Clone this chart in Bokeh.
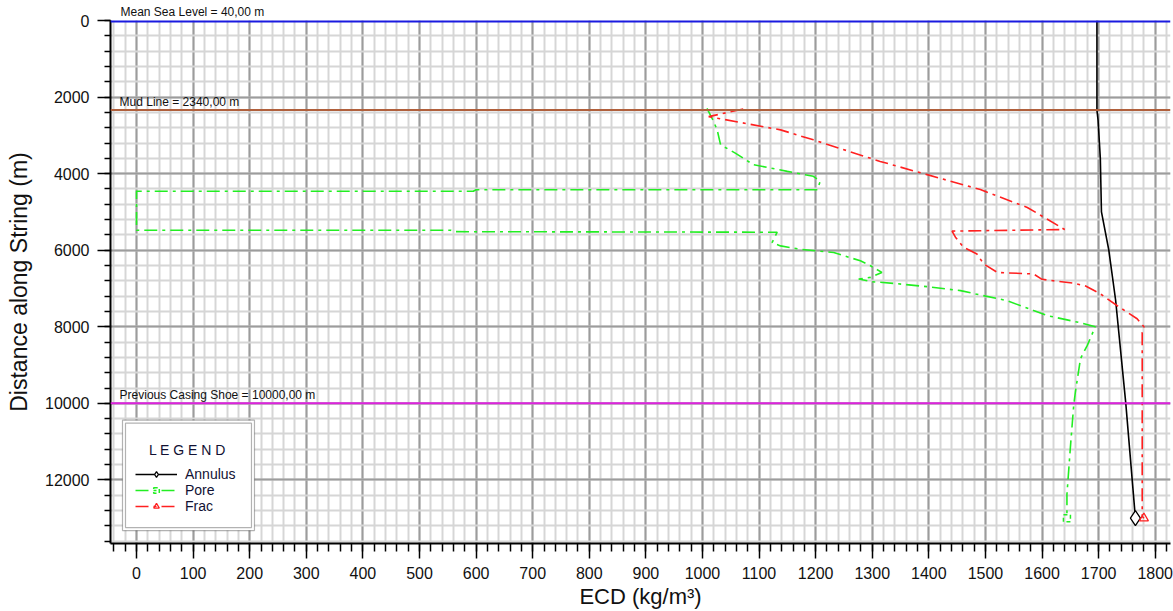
from bokeh.plotting import figure
from bokeh.models import (Range1d, SingleIntervalTicker, Legend, LegendItem,
                          Label, Span, BoxAnnotation)
from bokeh.embed import file_html
from bokeh.resources import INLINE

# ---------------- data ----------------
annulus_ecd = [1697, 1697, 1699, 1703, 1705, 1718, 1730, 1748, 1765]
annulus_depth = [0, 2340, 2600, 3600, 5000, 6000, 7300, 10000, 13000]

pore_ecd = [1008, 1017, 1026, 1032, 1058, 1090, 1150, 1196, 1208, 1203,
            600, 595, 0, 0, 555, 560, 1132, 1123, 1138, 1173, 1232, 1279,
            1297, 1317, 1297, 1276, 1300, 1338, 1397, 1456, 1491, 1538,
            1585, 1609, 1668, 1694, 1680, 1668, 1659, 1656, 1650, 1644, 1644]
pore_depth = [2294, 2554, 2857, 3247, 3463, 3766, 3940, 4069, 4199, 4420,
              4420, 4460, 4460, 5480, 5480, 5515, 5530, 5800, 5887, 5974,
              6060, 6277, 6407, 6580, 6710, 6753, 6822, 6866, 6952, 7056,
              7169, 7316, 7576, 7706, 7896, 8000, 8485, 8831, 9697, 10043,
              11169, 12381, 13000]

frac_ecd = [1072, 1011, 1138, 1196, 1314, 1397, 1491, 1574, 1640, 1441,
            1447, 1461, 1485, 1497, 1521, 1585, 1600, 1655, 1677, 1703,
            1733, 1768, 1780, 1777, 1777, 1780]
frac_depth = [2312, 2510, 2857, 3117, 3680, 4026, 4416, 4883, 5460, 5500,
              5660, 5920, 6100, 6360, 6580, 6620, 6760, 6860, 6935, 7140,
              7450, 7790, 8000, 8150, 12950, 13000]

ref_depths = [0, 2340, 10000]
ref_labels = ["Mean Sea Level = 40,00 m", "Mud Line = 2340,00 m",
              "Previous Casing Shoe = 10000,00 m"]
ref_colors = ["#1a1ae0", "#b0603c", "#dd22dd"]
ref_widths = [4, 2, 2]

series_names = ["Annulus", "Pore", "Frac"]

FONT = "Liberation Sans"

p = figure(width=1173, height=611, output_backend="svg", toolbar_location=None,
           x_range=Range1d(-46, 1827), y_range=Range1d(13660, 0),
           min_border_left=110, min_border_right=3, min_border_top=20,
           min_border_bottom=65, background_fill_color="white",
           border_fill_color="white")
p.outline_line_color = None

# top reference label (sits above the frame, so it is the plot title)
p.title.text = ref_labels[0]
p.title.align = "left"
p.title.offset = 10
p.title.text_font = FONT
p.title.text_font_size = "12px"
p.title.text_font_style = "normal"
p.title.text_color = "#111111"
p.title.standoff = 3

# axes
p.xaxis.ticker = SingleIntervalTicker(interval=100, num_minor_ticks=5)
p.yaxis.ticker = SingleIntervalTicker(interval=2000, num_minor_ticks=5)
p.xaxis.axis_label = "ECD (kg/m³)"
p.yaxis.axis_label = "Distance along String (m)"
for ax in (p.xaxis[0], p.yaxis[0]):
    ax.axis_line_color = "black"
    ax.axis_line_width = 2
    ax.major_tick_line_color = "black"
    ax.minor_tick_line_color = "black"
    ax.major_tick_line_width = 1.5
    ax.minor_tick_line_width = 1.5
    ax.major_tick_in = 0
    ax.minor_tick_in = 0
    ax.major_label_text_font = FONT
    ax.major_label_text_font_size = "16px"
    ax.major_label_text_color = "#111111"
    ax.axis_label_text_font = FONT
    ax.axis_label_text_font_style = "normal"
    ax.axis_label_text_color = "#111111"
p.xaxis.major_tick_out = 15
p.xaxis.minor_tick_out = 8
p.xaxis.major_label_standoff = 8
p.xaxis.axis_label_standoff = 2
p.xaxis.axis_label_text_font_size = "22px"
p.yaxis.major_tick_out = 13
p.yaxis.minor_tick_out = 6
p.yaxis.major_label_standoff = 8
p.yaxis.axis_label_standoff = 10
p.yaxis.axis_label_text_font_size = "23px"

# grid
for g in (p.xgrid[0], p.ygrid[0]):
    g.grid_line_color = "#9c9c9c"
    g.grid_line_width = 2
    g.minor_grid_line_color = "#d6d6d6"
    g.minor_grid_line_width = 2

# reference lines
for d, c, w in zip(ref_depths, ref_colors, ref_widths):
    p.add_layout(Span(location=d, dimension="width", line_color=c, line_width=w))
for d, lab in zip(ref_depths[1:], ref_labels[1:]):
    p.add_layout(Label(x=-30, y=d, text=lab, text_font=FONT, text_font_size="12px",
                       text_baseline="bottom", text_color="#111111", y_offset=1))

# series
r_ann = p.line(annulus_ecd, annulus_depth, line_color="black", line_width=1.6)
m_ann = p.scatter([annulus_ecd[-1]], [annulus_depth[-1]], marker="diamond", size=15,
                  line_color="black", fill_color="white", line_width=1.3)
r_pore = p.line(pore_ecd, pore_depth, line_color="#22ee22", line_width=1.6,
                line_dash="13 5 3 5")
m_pore = p.scatter([pore_ecd[-1]], [pore_depth[-1]], marker="square", size=7,
                   line_color="#22ee22", fill_color=None, line_width=1.5,
                   line_dash="4 3")
r_frac = p.line(frac_ecd, frac_depth, line_color="#ff2020", line_width=1.6,
                line_dash="13 5 3 5")
m_frac = p.scatter([frac_ecd[-1]], [frac_depth[-1]], marker="triangle", size=9,
                   line_color="#ff2020", fill_color=None, line_width=1.3)

# legend frame (double border) + title
p.add_layout(BoxAnnotation(left=-24.8, right=208.4, top=10440, bottom=13322,
                           fill_color="white", fill_alpha=1.0,
                           line_color="black", line_width=1.2, level="annotation"))
p.add_layout(BoxAnnotation(left=-19.5, right=203.1, top=10518, bottom=13244,
                           fill_alpha=0.0, line_color="black", line_width=1.2,
                           level="annotation"))
p.add_layout(Label(x=90, y=11219, text="L E G E N D", text_font=FONT,
                   text_font_size="14px", text_align="center",
                   text_baseline="middle", text_color="#111133"))

legend = Legend(items=[LegendItem(label=series_names[0], renderers=[r_ann, m_ann]),
                       LegendItem(label=series_names[1], renderers=[r_pore, m_pore]),
                       LegendItem(label=series_names[2], renderers=[r_frac, m_frac])],
                location=(25, 29), margin=0, padding=0, spacing=0,
                glyph_width=42, glyph_height=14, label_height=14,
                label_standoff=8, label_text_font=FONT,
                label_text_font_size="14px", label_text_color="#111133",
                border_line_color=None, background_fill_alpha=0.0)
p.add_layout(legend)

open("out.html", "w").write(file_html(p, INLINE))
